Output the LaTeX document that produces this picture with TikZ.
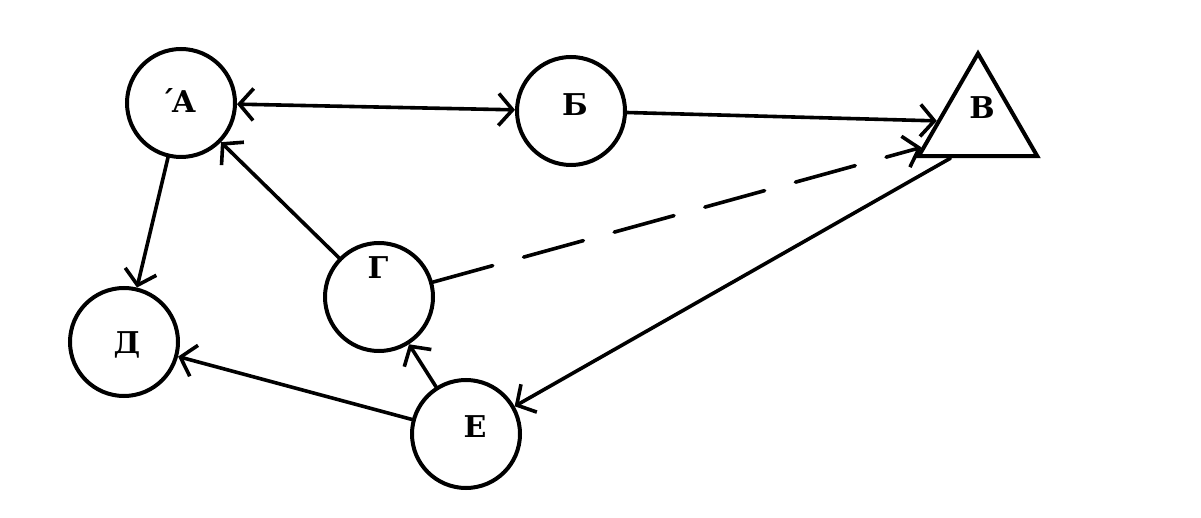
\documentclass[tikz,border=0pt]{standalone}
\usepackage{fontspec}
\newfontfamily\lblfont{DejaVu Serif}
\usetikzlibrary{arrows.meta,shapes.geometric,calc}
\begin{document}
\begin{tikzpicture}[x=1pt,y=-1pt,
  vtx/.style={circle,draw,line width=4pt,minimum size=108pt,inner sep=0pt},
  tri/.style={regular polygon,regular polygon sides=3,draw,line width=4pt,minimum size=137pt,inner sep=0pt},
  lbl/.style={font=\lblfont\bfseries\fontsize{30}{30}\selectfont,inner sep=0pt},
  edge/.style={line width=3.6pt,line cap=round,-{Straight Barb[length=14pt,width=32pt,line width=3.6pt]}},
  biedge/.style={line width=3.6pt,line cap=round,{Straight Barb[length=14pt,width=32pt,line width=3.6pt]}-{Straight Barb[length=14pt,width=32pt,line width=3.6pt]}},
  dashedge/.style={edge,dash pattern=on 62pt off 32pt}]
\fill[white] (0,0) rectangle (1201,518);
\useasboundingbox (0,0) rectangle (1201,518);
% vertices
\node[vtx] (A) at (181,103) {};
\node[vtx] (B) at (571,111) {};
\node[tri] (V) at (978,122) {};
\node[vtx] (G) at (379,297) {};
\node[vtx] (D) at (124,342) {};
\node[vtx] (E) at (466,434) {};
% labels
\node[lbl] (At) at (178,101) {´\kern-0.12emА};
\node[lbl] (Bt) at (575,105) {Б};
\node[lbl] (Vt) at (982,108) {В};
\node[lbl] (Gt) at (378,268) {Г};
\node[lbl] (Dt) at (127,345) {Д};
\node[lbl] (Et) at (475,427) {Е};
% anchor points on the triangle
\coordinate (Vin) at ($(V.corner 2)!0.1!(V.corner 1)$);
\coordinate (Vout) at ($(V.corner 2)!0.28!(V.corner 3)$);
% connectors
\draw[biedge] (A) -- (B);
\draw[edge] (B) -- (V);
\draw[dashedge] (G) -- (Vin);
\draw[edge] (Vout) -- (E);
\draw[edge] (G) -- (A);
\draw[edge] (A) -- (D);
\draw[edge] (E) -- (G);
\draw[edge] (E) -- (D);
\end{tikzpicture}
\end{document}
